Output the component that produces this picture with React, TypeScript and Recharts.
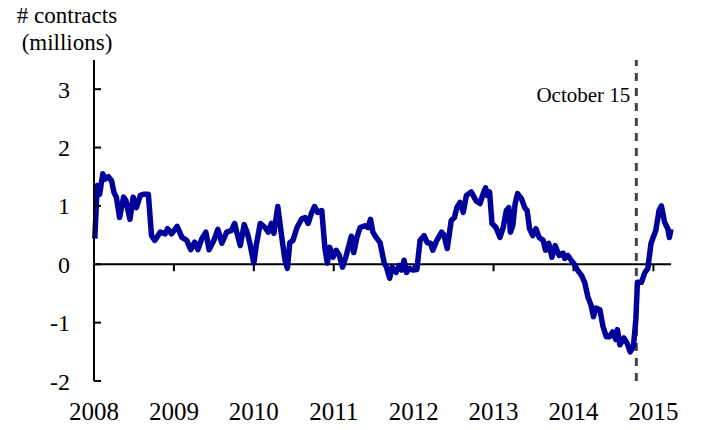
import { Line, LineChart, ReferenceLine, XAxis, YAxis } from "recharts";

// weekly-ish sample dates as decimal years
const weeks = [
  2008.01, 2008.04, 2008.07, 2008.11, 2008.14, 2008.18, 2008.22, 2008.25, 2008.28, 2008.32,
  2008.37, 2008.4, 2008.45, 2008.49, 2008.53, 2008.58, 2008.62, 2008.68, 2008.72, 2008.76,
  2008.83, 2008.89, 2008.92, 2008.97, 2009.04, 2009.1, 2009.16, 2009.21, 2009.26, 2009.3,
  2009.35, 2009.4, 2009.44, 2009.5, 2009.55, 2009.6, 2009.66, 2009.72, 2009.76, 2009.79,
  2009.83, 2009.88, 2009.92, 2009.95, 2010.0, 2010.03, 2010.08, 2010.14, 2010.18, 2010.22,
  2010.25, 2010.3, 2010.35, 2010.39, 2010.42, 2010.45, 2010.49, 2010.54, 2010.6, 2010.64,
  2010.68, 2010.72, 2010.76, 2010.8, 2010.85, 2010.89, 2010.92, 2010.95, 2010.99, 2011.03,
  2011.07, 2011.11, 2011.15, 2011.19, 2011.22, 2011.25, 2011.29, 2011.33, 2011.39, 2011.43,
  2011.46, 2011.49, 2011.53, 2011.58, 2011.63, 2011.66, 2011.7, 2011.73, 2011.78, 2011.82,
  2011.85, 2011.88, 2011.91, 2011.95, 2011.99, 2012.04, 2012.08, 2012.13, 2012.17, 2012.21,
  2012.24, 2012.29, 2012.35, 2012.38, 2012.42, 2012.47, 2012.51, 2012.54, 2012.58, 2012.62,
  2012.66, 2012.72, 2012.78, 2012.83, 2012.87, 2012.9, 2012.92, 2012.95, 2012.98, 2013.03,
  2013.08, 2013.12, 2013.16, 2013.19, 2013.21, 2013.24, 2013.27, 2013.3, 2013.35, 2013.39,
  2013.42, 2013.45, 2013.49, 2013.53, 2013.57, 2013.62, 2013.65, 2013.69, 2013.73, 2013.77,
  2013.82, 2013.87, 2013.89, 2013.93, 2013.97, 2014.01, 2014.05, 2014.1, 2014.14, 2014.18,
  2014.22, 2014.25, 2014.28, 2014.33, 2014.37, 2014.41, 2014.45, 2014.49, 2014.53, 2014.55,
  2014.58, 2014.63, 2014.67, 2014.71, 2014.75, 2014.78, 2014.8, 2014.85, 2014.89, 2014.93,
  2014.97, 2015.03, 2015.07, 2015.1, 2015.14, 2015.18, 2015.2, 2015.22,
];

// net position, millions of contracts
const contracts = [
  0.44, 1.35, 1.2, 1.55, 1.46, 1.5, 1.43, 1.23, 1.15, 0.8,
  1.15, 1.09, 0.77, 1.15, 0.97, 1.18, 1.2, 1.2, 0.49, 0.41,
  0.55, 0.52, 0.61, 0.52, 0.65, 0.46, 0.41, 0.25, 0.38, 0.25,
  0.44, 0.55, 0.25, 0.41, 0.6, 0.36, 0.55, 0.58, 0.7, 0.53,
  0.32, 0.68, 0.53, 0.36, 0.02, 0.32, 0.7, 0.63, 0.55, 0.7,
  0.53, 0.99, 0.46, 0.07, -0.07, 0.37, 0.41, 0.63, 0.78, 0.8,
  0.7, 0.87, 0.99, 0.89, 0.92, 0.27, 0.02, 0.29, 0.12, 0.24,
  0.15, -0.05, 0.12, 0.32, 0.48, 0.2, 0.46, 0.63, 0.66, 0.63,
  0.77, 0.55, 0.46, 0.37, 0.03, -0.05, -0.24, -0.05, -0.14, -0.02,
  -0.1, 0.07, -0.14, -0.07, -0.1, -0.09, 0.41, 0.49, 0.37, 0.36,
  0.24, 0.41, 0.55, 0.5, 0.27, 0.75, 0.8, 0.97, 1.06, 0.89,
  1.18, 1.24, 1.09, 1.04, 1.21, 1.31, 1.18, 1.24, 0.7, 0.63,
  0.46, 0.63, 0.92, 0.97, 0.55, 0.66, 1.04, 1.21, 1.12, 0.97,
  0.92, 0.61, 0.49, 0.61, 0.46, 0.41, 0.24, 0.36, 0.12, 0.32,
  0.15, 0.19, 0.1, 0.15, 0.07, 0.0, -0.1, -0.19, -0.31, -0.56,
  -0.7, -0.9, -0.75, -0.78, -1.07, -1.24, -1.24, -1.16, -1.29, -1.12,
  -1.38, -1.26, -1.35, -1.5, -1.41, -0.95, -0.31, -0.31, -0.15, -0.07,
  0.36, 0.58, 0.92, 1.0, 0.72, 0.61, 0.46, 0.6,
];

const yearTicks = [2008, 2009, 2010, 2011, 2012, 2013, 2014, 2015];
const valueTicks = [-2, -1, 0, 1, 2, 3];
const eventDate = 2014.786;
const eventLabel = "October 15";

const data = weeks.map((t, i) => ({ t, v: contracts[i] }));

const serif = "Liberation Serif";

export default function App() {
  return (
    <div
      style={{
        position: "absolute",
        left: 0,
        top: 0,
        width: 701,
        height: 430,
        background: "#fff",
        fontFamily: serif,
      }}
    >
      <LineChart width={701} height={430} data={data} margin={{ top: 60, right: 30, bottom: 0, left: 0 }}>
        <XAxis
          dataKey="t"
          type="number"
          domain={[2008, 2015.21]}
          ticks={yearTicks}
          axisLine={false}
          tickLine={false}
          tickSize={0}
          tickMargin={21}
          height={49}
          tick={{ fill: "#000", fontSize: 25, fontFamily: serif }}
        />
        <YAxis
          type="number"
          domain={[-2, 3.5]}
          ticks={valueTicks}
          width={94}
          axisLine={{ stroke: "#000", strokeWidth: 2 }}
          tickLine={{ stroke: "#000", strokeWidth: 2 }}
          tickSize={-7}
          tickMargin={31}
          tick={{ fill: "#000", fontSize: 24, fontFamily: serif }}
        />
        <ReferenceLine y={0} stroke="#000" strokeWidth={2} />
        {yearTicks.slice(1).map((yr) => (
          <ReferenceLine
            key={yr}
            segment={[
              { x: yr, y: 0 },
              { x: yr, y: -0.12 },
            ]}
            stroke="#000"
            strokeWidth={2}
          />
        ))}
        <ReferenceLine
          x={eventDate}
          stroke="#444"
          strokeWidth={3}
          strokeDasharray="8 7"
          label={({ viewBox }: any) => (
            <text
              x={viewBox.x - 6}
              y={viewBox.y + 42}
              textAnchor="end"
              fontSize={21}
              fontFamily={serif}
              fill="#000"
            >
              {eventLabel}
            </text>
          )}
        />
        <Line
          dataKey="v"
          type="linear"
          stroke="#00009a"
          strokeWidth={5.5}
          strokeLinejoin="round"
          dot={false}
          isAnimationActive={false}
        />
      </LineChart>
      <svg width={200} height={60} style={{ position: "absolute", left: 0, top: 0, pointerEvents: "none" }}>
        <text x={67} y={23} textAnchor="middle" fontSize={23} fontFamily={serif} fill="#000">
          # contracts
        </text>
        <text x={67} y={50} textAnchor="middle" fontSize={23} fontFamily={serif} fill="#000">
          (millions)
        </text>
      </svg>
    </div>
  );
}
